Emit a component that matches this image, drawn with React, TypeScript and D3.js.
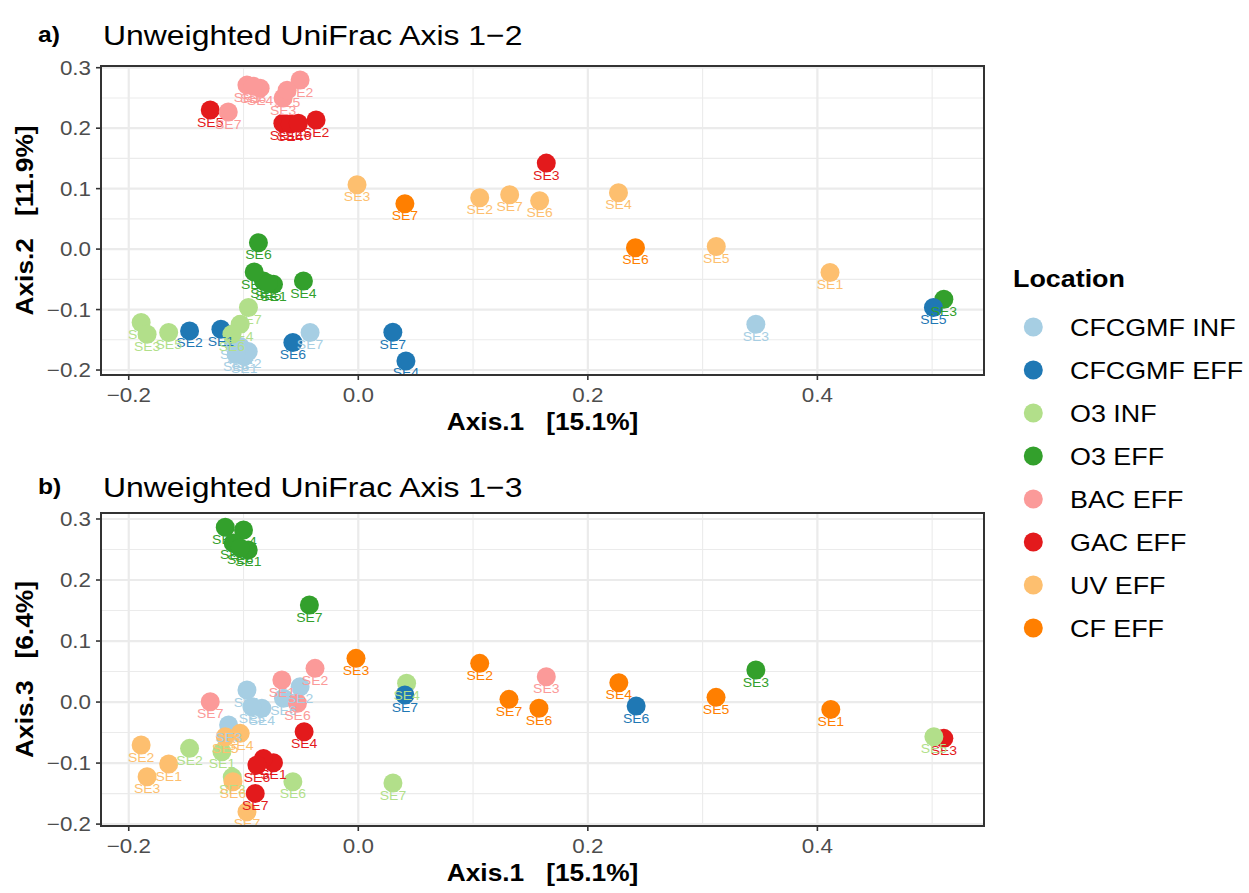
import React from "react";
import * as d3 from "d3";

const locations = ["CFCGMF INF", "CFCGMF EFF", "O3 INF", "O3 EFF", "BAC EFF", "GAC EFF", "UV EFF", "CF EFF"];
const locationColors = ["#A6CEE3", "#1F78B4", "#B2DF8A", "#33A02C", "#FB9A99", "#E31A1C", "#FDBF6F", "#FF7F00"];
const xTicks = [-0.2, 0, 0.2, 0.4];
const xMinor = [-0.1, 0.1, 0.3, 0.5];
const yTicks = [-0.2, -0.1, 0, 0.1, 0.2, 0.3];
const yMinor = [-0.15, -0.05, 0.05, 0.15, 0.25];

type Pt = [string, string, number, number];

// Panel a: [location, sample, Axis.1, Axis.2]
const axis12Points: Pt[] = [
  ["CFCGMF INF", "SE1", -0.0994, -0.1775],
  ["CFCGMF INF", "SE2", -0.0959, -0.1693],
  ["CFCGMF INF", "SE3", 0.3464, -0.1242],
  ["CFCGMF INF", "SE4", -0.1029, -0.161],
  ["CFCGMF INF", "SE5", -0.109, -0.1544],
  ["CFCGMF INF", "SE6", -0.1064, -0.1743],
  ["CFCGMF INF", "SE7", -0.042, -0.1379],
  ["CFCGMF EFF", "SE1", -0.1197, -0.1325],
  ["CFCGMF EFF", "SE2", -0.147, -0.1353],
  ["CFCGMF EFF", "SE4", 0.0415, -0.185],
  ["CFCGMF EFF", "SE5", 0.5011, -0.0967],
  ["CFCGMF EFF", "SE6", -0.057, -0.1544],
  ["CFCGMF EFF", "SE7", 0.0301, -0.1374],
  ["O3 INF", "SE1", -0.1892, -0.1214],
  ["O3 INF", "SE3", -0.184, -0.1407],
  ["O3 INF", "SE4", -0.1029, -0.1242],
  ["O3 INF", "SE5", -0.1652, -0.1379],
  ["O3 INF", "SE6", -0.1101, -0.1407],
  ["O3 INF", "SE7", -0.0957, -0.0967],
  ["O3 EFF", "SE1", -0.0739, -0.0583],
  ["O3 EFF", "SE2", -0.0826, -0.0529],
  ["O3 EFF", "SE3", 0.5102, -0.083],
  ["O3 EFF", "SE4", -0.0478, -0.0529],
  ["O3 EFF", "SE5", -0.0785, -0.0567],
  ["O3 EFF", "SE6", -0.087, 0.0104],
  ["O3 EFF", "SE7", -0.0907, -0.038],
  ["BAC EFF", "SE1", -0.097, 0.2712],
  ["BAC EFF", "SE2", -0.0507, 0.2796],
  ["BAC EFF", "SE3", -0.0655, 0.2498],
  ["BAC EFF", "SE4", -0.0855, 0.2662],
  ["BAC EFF", "SE5", -0.062, 0.2629],
  ["BAC EFF", "SE6", -0.0916, 0.2695],
  ["BAC EFF", "SE7", -0.1133, 0.2267],
  ["GAC EFF", "SE1", -0.0657, 0.2081],
  ["GAC EFF", "SE2", -0.0368, 0.2135],
  ["GAC EFF", "SE3", 0.1638, 0.1422],
  ["GAC EFF", "SE4", -0.0594, 0.2069],
  ["GAC EFF", "SE5", -0.129, 0.23],
  ["GAC EFF", "SE6", -0.0522, 0.2081],
  ["UV EFF", "SE1", 0.411, -0.0386],
  ["UV EFF", "SE2", 0.1058, 0.085],
  ["UV EFF", "SE3", -0.0011, 0.1064],
  ["UV EFF", "SE4", 0.2267, 0.0932],
  ["UV EFF", "SE5", 0.3119, 0.0043],
  ["UV EFF", "SE6", 0.158, 0.08],
  ["UV EFF", "SE7", 0.1319, 0.09],
  ["CF EFF", "SE6", 0.2415, 0.0021],
  ["CF EFF", "SE7", 0.0406, 0.0751],
];

// Panel b: [location, sample, Axis.1, Axis.3]
const axis13Points: Pt[] = [
  ["CFCGMF INF", "SE1", -0.097, 0.0197],
  ["CFCGMF INF", "SE2", -0.0507, 0.0251],
  ["CFCGMF INF", "SE3", -0.113, -0.0377],
  ["CFCGMF INF", "SE4", -0.084, -0.0103],
  ["CFCGMF INF", "SE5", -0.0927, -0.0077],
  ["CFCGMF INF", "SE6", -0.0652, 0.0061],
  ["CFCGMF EFF", "SE6", 0.2421, -0.0066],
  ["CFCGMF EFF", "SE7", 0.0406, 0.0115],
  ["O3 INF", "SE1", -0.1188, -0.0815],
  ["O3 INF", "SE2", -0.147, -0.0759],
  ["O3 INF", "SE3", -0.1098, -0.123],
  ["O3 INF", "SE4", 0.0421, 0.0307],
  ["O3 INF", "SE5", 0.5015, -0.0569],
  ["O3 INF", "SE6", -0.057, -0.1307],
  ["O3 INF", "SE7", 0.0302, -0.1328],
  ["O3 EFF", "SE1", -0.0959, 0.2492],
  ["O3 EFF", "SE2", -0.1159, 0.2865],
  ["O3 EFF", "SE3", 0.3464, 0.0525],
  ["O3 EFF", "SE4", -0.1, 0.282],
  ["O3 EFF", "SE5", -0.109, 0.2607],
  ["O3 EFF", "SE6", -0.1029, 0.2525],
  ["O3 EFF", "SE7", -0.0426, 0.159],
  ["BAC EFF", "SE1", -0.0666, 0.0361],
  ["BAC EFF", "SE2", -0.0377, 0.0552],
  ["BAC EFF", "SE3", 0.1638, 0.0415],
  ["BAC EFF", "SE6", -0.053, -0.0021],
  ["BAC EFF", "SE7", -0.129, 0.0005],
  ["GAC EFF", "SE1", -0.0739, -0.0995],
  ["GAC EFF", "SE2", -0.0826, -0.0923],
  ["GAC EFF", "SE3", 0.5102, -0.0595],
  ["GAC EFF", "SE4", -0.0472, -0.0487],
  ["GAC EFF", "SE6", -0.0883, -0.1033],
  ["GAC EFF", "SE7", -0.0898, -0.1497],
  ["UV EFF", "SE1", -0.1652, -0.1016],
  ["UV EFF", "SE2", -0.1892, -0.0705],
  ["UV EFF", "SE3", -0.184, -0.1225],
  ["UV EFF", "SE4", -0.1029, -0.0513],
  ["UV EFF", "SE5", -0.1159, -0.0569],
  ["UV EFF", "SE6", -0.1092, -0.1307],
  ["UV EFF", "SE7", -0.097, -0.1798],
  ["CF EFF", "SE1", 0.4117, -0.012],
  ["CF EFF", "SE2", 0.1058, 0.0634],
  ["CF EFF", "SE3", -0.002, 0.0716],
  ["CF EFF", "SE4", 0.227, 0.0316],
  ["CF EFF", "SE5", 0.3117, 0.0077],
  ["CF EFF", "SE6", 0.1574, -0.0103],
  ["CF EFF", "SE7", 0.1313, 0.0044],
];

const SX = 1.12;
const FONT = "'Liberation Sans', Arial, Helvetica, sans-serif";
const color = d3.scaleOrdinal<string, string>().domain(locations).range(locationColors);
const fmt = d3.format(".1f");

function STxt(props: {
  x: number; y: number; size: number; anchor?: string; weight?: string;
  fill?: string; rotate?: boolean; children: React.ReactNode;
}) {
  const { x, y, size, anchor = "start", weight = "normal", fill = "#000", rotate = false, children } = props;
  const t = `translate(${x},${y})${rotate ? " rotate(-90)" : ""} scale(${SX},1)`;
  return (
    <text transform={t} fontSize={size} fontWeight={weight} fill={fill}
      textAnchor={anchor as any} fontFamily={FONT} style={{ whiteSpace: "pre" }}>
      {children}
    </text>
  );
}

type Box = { left: number; right: number; top: number; bottom: number };

function expand(vals: number[]): [number, number] {
  const [a, b] = d3.extent(vals) as [number, number];
  const p = (b - a) * 0.05;
  return [a - p, b + p];
}

function Panel(props: { id: string; points: Pt[]; box: Box; tag: string; title: string; yTitle: string; titleY: number }) {
  const { id, points, box, tag, title, yTitle, titleY } = props;
  const x = d3.scaleLinear().domain(expand(points.map((p) => p[2]))).range([box.left, box.right]);
  const y = d3.scaleLinear().domain(expand(points.map((p) => p[3]))).range([box.bottom, box.top]);
  const sorted = [...points].sort((a, b) => d3.ascending(a[1], b[1]));
  const [dx0, dx1] = x.domain();
  const [dy0, dy1] = y.domain();
  const inX = (v: number) => v >= dx0 && v <= dx1;
  const inY = (v: number) => v >= dy0 && v <= dy1;
  return (
    <g>
      <defs>
        <clipPath id={id}>
          <rect x={box.left} y={box.top} width={box.right - box.left} height={box.bottom - box.top} />
        </clipPath>
      </defs>
      <STxt x={38} y={titleY - 3} size={22} weight="bold">{tag}</STxt>
      <STxt x={103} y={titleY} size={28.5}>{title}</STxt>
      <rect x={box.left} y={box.top} width={box.right - box.left} height={box.bottom - box.top} fill="#fff" />
      {xMinor.filter(inX).map((v) => (
        <line key={"xm" + v} x1={x(v)} x2={x(v)} y1={box.top} y2={box.bottom} stroke="#EBEBEB" strokeWidth={1.1} />
      ))}
      {yMinor.filter(inY).map((v) => (
        <line key={"ym" + v} y1={y(v)} y2={y(v)} x1={box.left} x2={box.right} stroke="#EBEBEB" strokeWidth={1.1} />
      ))}
      {xTicks.filter(inX).map((v) => (
        <line key={"xM" + v} x1={x(v)} x2={x(v)} y1={box.top} y2={box.bottom} stroke="#EBEBEB" strokeWidth={2.2} />
      ))}
      {yTicks.filter(inY).map((v) => (
        <line key={"yM" + v} y1={y(v)} y2={y(v)} x1={box.left} x2={box.right} stroke="#EBEBEB" strokeWidth={2.2} />
      ))}
      <g clipPath={`url(#${id})`}>
        {sorted.map((p, i) => (
          <circle key={"c" + i} cx={x(p[2])} cy={y(p[3])} r={9.5} fill={color(p[0])} />
        ))}
        {sorted.map((p, i) => (
          <STxt key={"t" + i} x={x(p[2])} y={y(p[3]) + 16.5} size={12.5} anchor="middle" fill={color(p[0])}>
            {p[1]}
          </STxt>
        ))}
      </g>
      <rect x={box.left} y={box.top} width={box.right - box.left} height={box.bottom - box.top}
        fill="none" stroke="#333333" strokeWidth={2} />
      {xTicks.filter(inX).map((v) => (
        <g key={"xt" + v}>
          <line x1={x(v)} x2={x(v)} y1={box.bottom} y2={box.bottom + 5} stroke="#333333" strokeWidth={1.6} />
          <STxt x={x(v)} y={box.bottom + 27} size={20} anchor="middle" fill="#4D4D4D">{fmt(v)}</STxt>
        </g>
      ))}
      {yTicks.filter(inY).map((v) => (
        <g key={"yt" + v}>
          <line x1={box.left - 5} x2={box.left} y1={y(v)} y2={y(v)} stroke="#333333" strokeWidth={1.6} />
          <STxt x={box.left - 10} y={y(v) + 7} size={20} anchor="end" fill="#4D4D4D">{fmt(v)}</STxt>
        </g>
      ))}
      <STxt x={(box.left + box.right) / 2} y={box.bottom + 55} size={23.5} anchor="middle" weight="bold">
        {"Axis.1   [15.1%]"}
      </STxt>
      <STxt x={33} y={(box.top + box.bottom) / 2} size={23.5} anchor="middle" weight="bold" rotate>
        {yTitle}
      </STxt>
    </g>
  );
}

function Legend() {
  return (
    <g>
      <STxt x={1013} y={287} size={24} weight="bold">Location</STxt>
      {locations.map((loc, i) => (
        <g key={loc}>
          <circle cx={1033.3} cy={327 + i * 43} r={9.5} fill={color(loc)} />
          <STxt x={1070} y={327 + i * 43 + 8.5} size={24}>{loc}</STxt>
        </g>
      ))}
    </g>
  );
}

export default function App() {
  return (
    <svg width={1249} height={893} style={{ position: "absolute", left: 0, top: 0, background: "#fff" }}>
      <rect x={0} y={0} width={1249} height={893} fill="#fff" />
      <Panel id="clipA" points={axis12Points} box={{ left: 101, right: 984, top: 66, bottom: 375 }}
        tag="a)" title="Unweighted UniFrac Axis 1−2" yTitle={"Axis.2   [11.9%]"} titleY={45} />
      <Panel id="clipB" points={axis13Points} box={{ left: 101, right: 984, top: 513, bottom: 826 }}
        tag="b)" title="Unweighted UniFrac Axis 1−3" yTitle={"Axis.3   [6.4%]"} titleY={497} />
      <Legend />
    </svg>
  );
}
